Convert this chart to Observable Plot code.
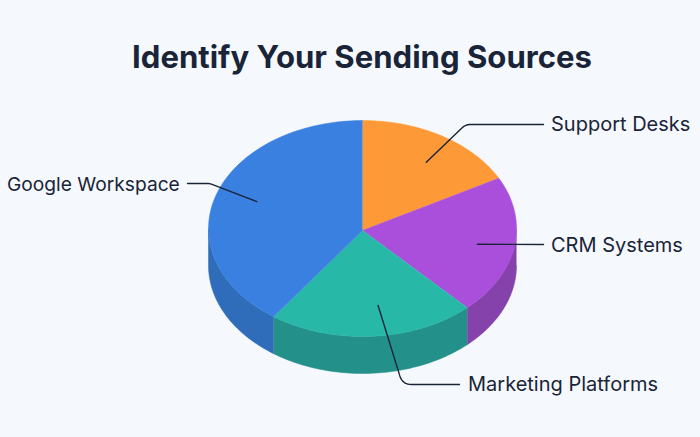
<!DOCTYPE html>
<html>
<head>
<meta charset="utf-8">
<script src="https://cdn.jsdelivr.net/npm/d3@7"></script>
<script src="https://cdn.jsdelivr.net/npm/@observablehq/plot@0.6"></script>
<style>
  html, body { margin: 0; padding: 0; background: #f5f9fd; overflow: hidden; }
  h1 { margin: 0; height: 88px; padding-top: 35px; box-sizing: border-box; text-align: center;
       font: 700 31.1px/44px Inter, sans-serif; color: #1a2438; white-space: nowrap; padding-left: 24px; }
  svg { display: block; background: transparent; }
</style>
</head>
<body>
<h1>Identify Your Sending Sources</h1>
<div id="chart"></div>
<script>
// Data (clockwise from 12 o'clock)
const categories = ["Support Desks", "CRM Systems", "Marketing Platforms", "Google Workspace"];
const shares = [17.3, 20.8, 21.7, 40.2];
const topColors = ["#fd9a37", "#a94fdc", "#28b8a8", "#3a80e0"];
const sideColors = ["#c97a2b", "#8642ab", "#24908a", "#2f6cb9"];

// Projection of the disc
const headerH = 88;
const cx = 362, cy = 228, rx = 154, ry = 108, depth = 37, apexY = 230;
const px = (a, r = 1) => cx + rx * r * Math.sin(a);
const py = (a, r = 1) => cy - ry * r * Math.cos(a);
const rad = d => d * Math.PI / 180;

const arcs = d3.pie().sort(null).value(d => d)(shares);
const sample = (a0, a1) => d3.range(0, 61).map(i => a0 + (a1 - a0) * i / 60);

const tops = [], sides = [];
arcs.forEach((arc, i) => {
  const name = categories[i];
  tops.push({key: name, x: cx, y: apexY});
  for (const a of sample(arc.startAngle, arc.endAngle)) tops.push({key: name, x: px(a), y: py(a)});
  const s = Math.max(arc.startAngle, Math.PI / 2), e = Math.min(arc.endAngle, Math.PI * 1.5);
  if (s < e) {
    const pts = sample(s, e);
    for (const a of pts) sides.push({key: name + " side", x: px(a), y: py(a)});
    for (const a of pts.reverse()) sides.push({key: name + " side", x: px(a), y: py(a) + depth});
  }
});

// Callouts: anchor on the slice, then elbow, then end next to the label
const labelX = [550.5, 550.5, 467.5, 6.5];
const labelY = [124, 245, 384, 184];
const labelSize = [20, 20, 20, 19.2];
const anchorShift = [2.9, 1.3, -4.3, 2.3];
const anchorRadius = [0.74, 0.76, 0.72, 0.73];
const elbows = [[465, 124], null, [402, 384], [209, 183]];
const ends = [[543, 124], [543, 244], [459, 384], [187, 183]];
const cornerSize = [5, 0, 9, 2];

function rounded(p0, c, p1, size) {
  const toward = (from, to, d) => {
    const l = Math.hypot(to[0] - from[0], to[1] - from[1]);
    return [from[0] + (to[0] - from[0]) * d / l, from[1] + (to[1] - from[1]) * d / l];
  };
  const a = toward(c, p0, size), b = toward(c, p1, size);
  return d3.range(0, 9).map(i => {
    const t = i / 8, u = 1 - t;
    return [u * u * a[0] + 2 * u * t * c[0] + t * t * b[0], u * u * a[1] + 2 * u * t * c[1] + t * t * b[1]];
  });
}

const leaders = [];
arcs.forEach((arc, i) => {
  const a = (arc.startAngle + arc.endAngle) / 2 + rad(anchorShift[i]);
  const start = [px(a, anchorRadius[i]), py(a, anchorRadius[i])];
  const mid = elbows[i] ? rounded(start, elbows[i], ends[i], cornerSize[i]) : [];
  for (const p of [start, ...mid, ends[i]]) leaders.push({key: categories[i], x: p[0], y: p[1]});
});

const labels = categories.map((name, i) => ({name, x: labelX[i], y: labelY[i], size: labelSize[i]}));

const chart = Plot.plot({
  width: 700,
  height: 437 - headerH,
  margin: 0,
  x: {domain: [0, 700], range: [0, 700], axis: null},
  y: {domain: [headerH, 437], range: [0, 437 - headerH], axis: null},
  color: {
    domain: [...categories, ...categories.map(c => c + " side")],
    range: [...topColors, ...sideColors]
  },
  marks: [
    Plot.line(sides, {x: "x", y: "y", z: "key", fill: "key", stroke: "key", strokeWidth: 0.5}),
    Plot.line(tops, {x: "x", y: "y", z: "key", fill: "key", stroke: "key", strokeWidth: 0.5}),
    Plot.line(leaders, {x: "x", y: "y", z: "key", stroke: "#1a2438", strokeWidth: 1.4}),
    Plot.text(labels, {x: "x", y: "y", text: "name", textAnchor: "start", fill: "#1a2438",
      fontSize: d => d.size, fontFamily: "Inter, sans-serif", fontWeight: 400})
  ]
});
chart.style.background = "transparent";
document.getElementById("chart").appendChild(chart);
</script>
</body>
</html>
